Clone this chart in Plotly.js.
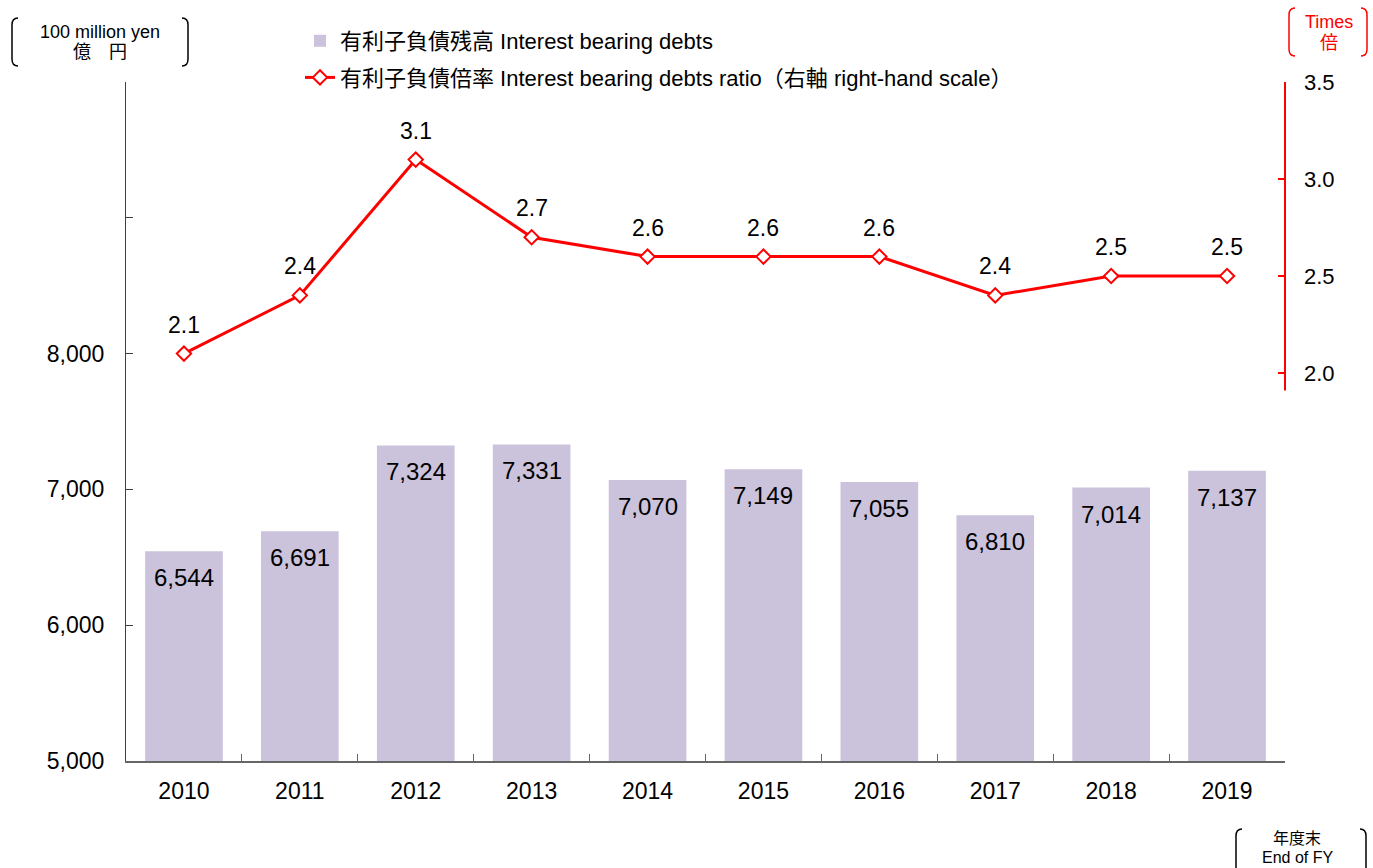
<!DOCTYPE html>
<html>
<head>
<meta charset="utf-8">
<script src="https://cdn.plot.ly/plotly-3.0.1.min.js"></script>
<style>html,body{margin:0;padding:0;background:#fff;}#chart{width:1373px;height:868px;}</style>
</head>
<body>
<div id="chart"></div>
<script>
const years = ['2010','2011','2012','2013','2014','2015','2016','2017','2018','2019'];
const debts = [6544, 6691, 7324, 7331, 7070, 7149, 7055, 6810, 7014, 7137];
const ratio = [2.1, 2.4, 3.1, 2.7, 2.6, 2.6, 2.6, 2.4, 2.5, 2.5];
const leftTicks = [5000, 6000, 7000, 8000, 9000, 10000];
const leftTickText = ['5,000', '6,000', '7,000', '8,000', '', ''];
const rightTicks = [2.0, 2.5, 3.0, 3.5];
const rightTickText = ['2.0', '2.5', '3.0', '3.5'];
const barName = '有利子負債残高 Interest bearing debts';
const lineName = '有利子負債倍率 Interest bearing debts ratio（右軸 right-hand scale）';

const FONT = 'Liberation Sans, Arial, Noto Sans CJK JP, sans-serif';
const L = 126, R = 1285, T = 82, B = 761;
const px = v => (v - L) / (R - L);
const py = v => (B - v) / (B - T);
function bracket(x, y0, y1, dir) {
  const d = 6 * dir;
  return `M ${px(x + d)},${py(y0)} Q ${px(x)},${py(y0)} ${px(x)},${py(y0 + 7)} L ${px(x)},${py(y1 - 7)} Q ${px(x)},${py(y1)} ${px(x + d)},${py(y1)}`;
}

const fmt = n => n.toLocaleString('en-US');

const traces = [
  {
    type: 'bar', x: years, y: debts, name: barName,
    marker: {color: '#CBC2DB'}, yaxis: 'y', legendgroup: 'a', hoverinfo: 'x+y'
  },
  {
    type: 'scatter', mode: 'lines+markers', x: years, y: ratio, name: lineName,
    yaxis: 'y2', legendgroup: 'b',
    line: {color: '#FF0000', width: 3},
    marker: {symbol: 'diamond', size: 11, color: '#FFFFFF', line: {color: '#FF0000', width: 2}}
  }
];

const annotations = [];
years.forEach((yr, i) => {
  annotations.push({x: i, y: debts[i], xref: 'x', yref: 'y', text: fmt(debts[i]),
    showarrow: false, xanchor: 'center', yanchor: 'top', yshift: -11, font: {family: FONT, size: 24, color: '#000'}});
  annotations.push({x: i, y: ratio[i], xref: 'x', yref: 'y2', text: ratio[i].toFixed(1),
    showarrow: false, xanchor: 'center', yanchor: 'bottom', yshift: 14, font: {family: FONT, size: 23, color: '#000'}});
});
function paperText(x, y, text, size, color) {
  annotations.push({xref: 'paper', yref: 'paper', x: px(x), y: py(y), text: text,
    xanchor: 'center', yanchor: 'middle', showarrow: false, font: {family: FONT, size: size, color: color}});
}
paperText(100, 32, '100 million yen', 18, '#000');
paperText(100, 52, '億　円', 18, '#000');
paperText(1329, 22, 'Times', 18, '#FF0000');
paperText(1329, 43, '倍', 18, '#FF0000');
paperText(1297, 838, '年度末', 16, '#000');
paperText(1297, 857, 'End of FY', 16, '#000');

const shapes = [
  {type: 'path', xref: 'paper', yref: 'paper', path: bracket(12, 18, 66, 1), line: {color: '#000', width: 1.5}},
  {type: 'path', xref: 'paper', yref: 'paper', path: bracket(188, 18, 66, -1), line: {color: '#000', width: 1.5}},
  {type: 'path', xref: 'paper', yref: 'paper', path: bracket(1289, 8, 56, 1), line: {color: '#FF0000', width: 1.5}},
  {type: 'path', xref: 'paper', yref: 'paper', path: bracket(1367, 8, 56, -1), line: {color: '#FF0000', width: 1.5}},
  {type: 'path', xref: 'paper', yref: 'paper', path: bracket(1236, 829, 877, 1), line: {color: '#000', width: 1.5}},
  {type: 'path', xref: 'paper', yref: 'paper', path: bracket(1366, 829, 877, -1), line: {color: '#000', width: 1.5}},
  {type: 'line', xref: 'paper', yref: 'y2', x0: 1, x1: 1, y0: 1.91, y1: 3.5, line: {color: '#FF0000', width: 2}}
];

const layout = {
  width: 1373, height: 868,
  margin: {l: L, r: 1373 - R, t: T, b: 868 - B, pad: 0},
  paper_bgcolor: '#fff', plot_bgcolor: '#fff',
  font: {family: FONT, size: 20, color: '#000'},
  showlegend: true,
  legend: {x: px(300), y: py(20), xanchor: 'left', yanchor: 'top', traceorder: 'grouped',
    tracegroupgap: 5, font: {family: FONT, size: 22, color: '#000'}, bgcolor: 'rgba(0,0,0,0)', itemwidth: 30},
  bargap: 0.33,
  xaxis: {type: 'category', categoryorder: 'array', categoryarray: years, range: [-0.5, 9.5],
    showline: true, linecolor: '#666', linewidth: 1.5, ticks: 'inside', tickson: 'boundaries',
    ticklen: 7, tickcolor: '#666', showgrid: false, zeroline: false, tickangle: 0, ticklabelstandoff: 9,
    tickfont: {family: FONT, size: 23, color: '#000'}, fixedrange: true},
  yaxis: {range: [5000, 10000], tickvals: leftTicks, ticktext: leftTickText,
    showline: true, linecolor: '#404040', linewidth: 1.2, ticks: 'inside', ticklen: 7, tickcolor: '#404040',
    ticklabelstandoff: 16,
    showgrid: false, zeroline: false, tickfont: {family: FONT, size: 23, color: '#000'}, fixedrange: true},
  yaxis2: {range: [0, 3.5], overlaying: 'y', side: 'right', tickvals: rightTicks, ticktext: rightTickText,
    showline: false, ticks: 'inside', ticklen: 7, tickcolor: '#FF0000', tickwidth: 2, ticklabelstandoff: 18,
    showgrid: false, zeroline: false, tickfont: {family: FONT, size: 22, color: '#000'}, fixedrange: true},
  annotations: annotations,
  shapes: shapes
};

Plotly.newPlot('chart', traces, layout, {displayModeBar: false});
</script>
</body>
</html>
